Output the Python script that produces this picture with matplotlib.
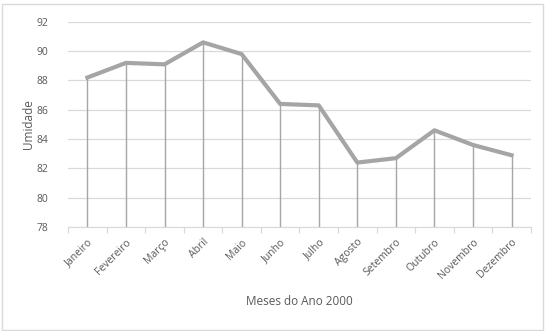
import matplotlib
matplotlib.use("Agg")
import matplotlib.pyplot as plt
import numpy as np

plt.rcParams["font.family"] = ["Open Sans", "DejaVu Sans"]

meses = ["Janeiro", "Fevereiro", "Março", "Abril", "Maio", "Junho", "Julho",
         "Agosto", "Setembro", "Outubro", "Novembro", "Dezembro"]
umidade = [88.2, 89.2, 89.1, 90.6, 89.8, 86.4, 86.3, 82.4, 82.7, 84.6, 83.6, 82.9]
yticks = [78, 80, 82, 84, 86, 88, 90, 92]

TXT = "#595959"
fig = plt.figure(figsize=(5.45, 3.31), dpi=100, facecolor="white")
# borda do gráfico estilo Excel
fig.patches.append(plt.Rectangle((0.004, 0.004), 0.992, 0.985, transform=fig.transFigure,
                                 fill=False, ec="#D9D9D9", lw=1))
ax = fig.add_axes([0.125, 0.314, 0.849, 0.62])

x = np.arange(len(meses))
ax.vlines(x, 78, umidade, color="#A6A6A6", lw=1, zorder=2)
ax.plot(x, umidade, color="#A5A5A5", lw=3, solid_joinstyle="round", zorder=3)

ax.set_xlim(-0.5, len(meses) - 0.5)
ax.set_ylim(78, 92)
ax.set_yticks(yticks)
ax.grid(True, axis="y", color="#D9D9D9", lw=0.9, zorder=0)
ax.tick_params(axis="y", length=0, labelsize=7.5, labelcolor=TXT, pad=14)

ax.set_xticks(x)
ax.set_xticklabels(meses, rotation=45, ha="right", rotation_mode="anchor",
                   fontsize=7.5, color=TXT)
ax.tick_params(axis="x", length=0, pad=7)
ax.set_xticks(np.arange(-0.5, len(meses)), minor=True)
ax.tick_params(axis="x", which="minor", length=4, color="#D9D9D9", width=0.9)

for s in ["top", "right", "left"]:
    ax.spines[s].set_visible(False)
ax.spines["bottom"].set_color("#D9D9D9")

ax.set_ylabel("Umidade", fontsize=8.5, color=TXT, labelpad=1)
ax.set_xlabel("Meses do Ano 2000", fontsize=8.5, color=TXT, labelpad=10)

fig.savefig("out.png", dpi=100, facecolor="white")
